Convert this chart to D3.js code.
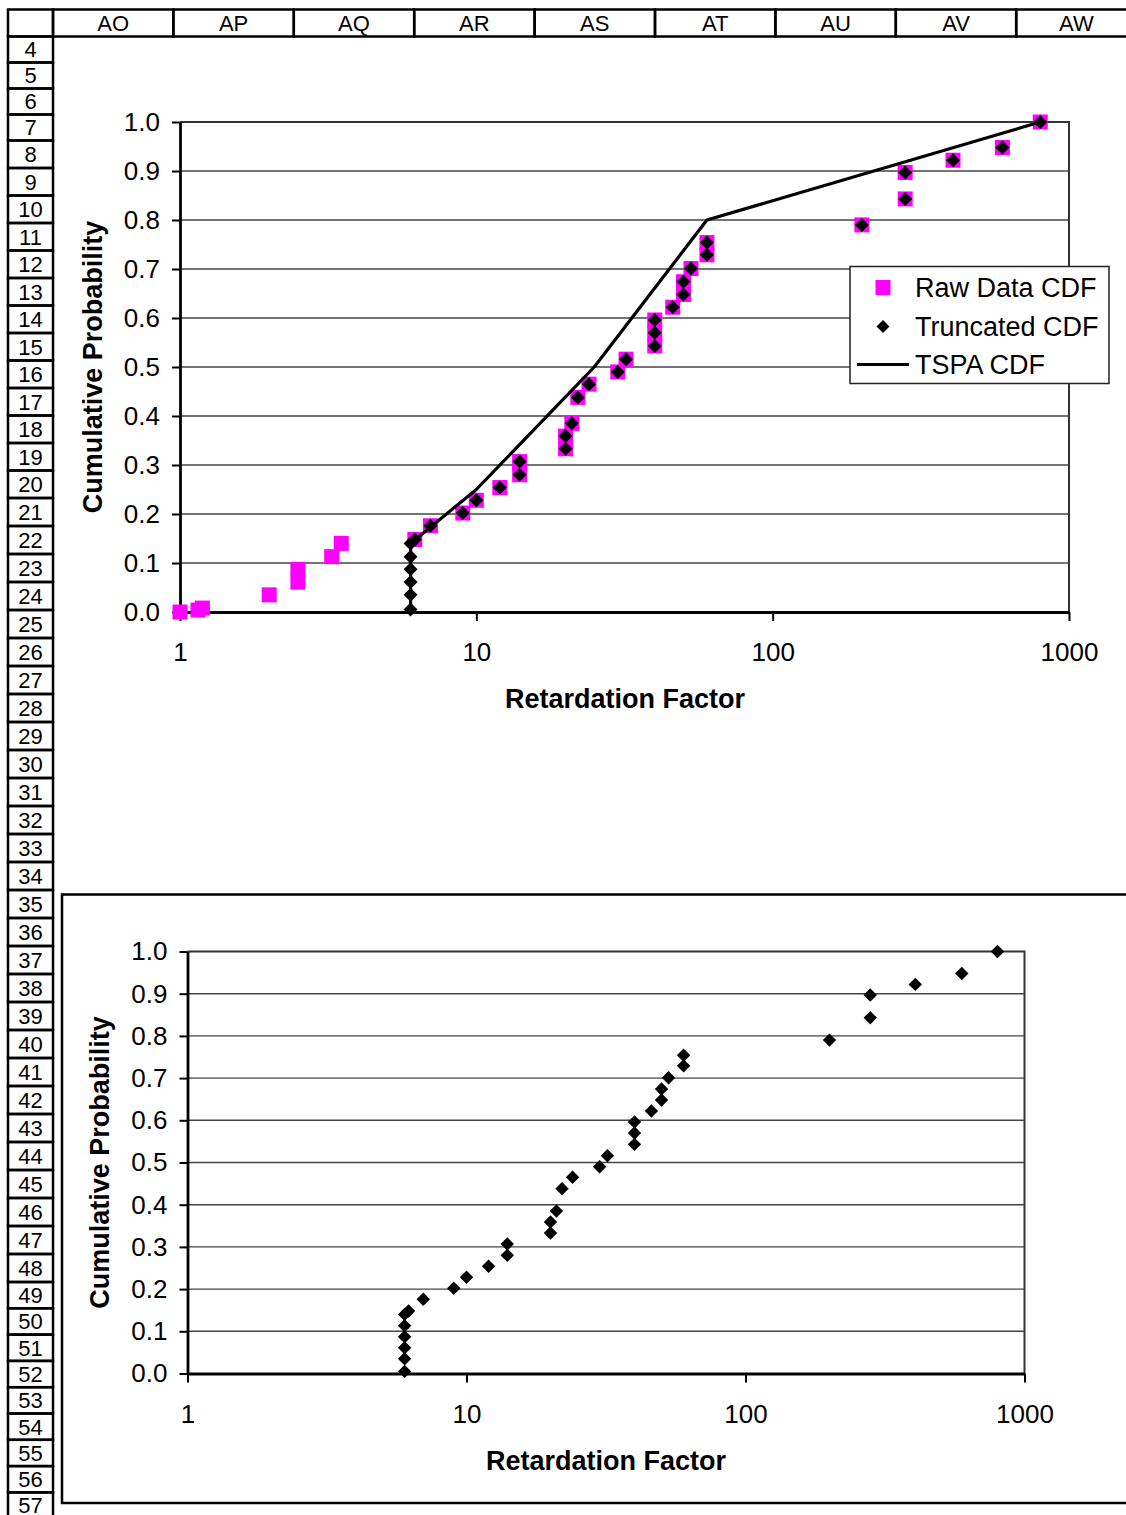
<!DOCTYPE html>
<html>
<head>
<meta charset="utf-8">
<script src="https://cdn.jsdelivr.net/npm/d3@7"></script>
<style>
  body { margin: 0; background: #fff; }
  svg { display: block; }
  text { font-family: "Liberation Sans", Arial, sans-serif; }
</style>
</head>
<body>
<svg id="sheet" width="1126" height="1515"></svg>
<script>
// spreadsheet headers
var colLabels = ['AO', 'AP', 'AQ', 'AR', 'AS', 'AT', 'AU', 'AV', 'AW'];
var rowLabels = d3.range(4, 58);

// raw data below the truncation value
var rawLowRf = [1, 1.15, 1.19, 2, 2.5, 2.5, 3.25, 3.5];
var rawLowProb = [0, 0.004, 0.008, 0.035, 0.061, 0.087, 0.113, 0.14];

// truncated CDF (raw values under 6 set to 6)
var truncRf = [6, 6, 6, 6, 6, 6, 6.2, 7, 9, 10, 12, 14, 14, 20, 20, 21, 22, 24, 30, 32,
    40, 40, 40, 46, 50, 50, 53, 60, 60, 200, 280, 280, 406, 596, 800];
var truncProb = [0.005, 0.035, 0.061, 0.087, 0.113, 0.14, 0.148, 0.176, 0.202, 0.228, 0.254,
    0.28, 0.307, 0.333, 0.359, 0.385, 0.438, 0.465, 0.49, 0.516, 0.543, 0.57, 0.596, 0.622,
    0.648, 0.674, 0.701, 0.729, 0.754, 0.79, 0.843, 0.897, 0.922, 0.948, 1.0];

// TSPA distribution
var tspaRf = [6, 6, 10, 25, 60, 800];
var tspaProb = [0, 0.14, 0.25, 0.5, 0.8, 1.0];

var xTicks = [1, 10, 100, 1000];
var yTicks = d3.range(0, 11).map(function (d) { return d / 10; });
var legendLabels = ['Raw Data CDF', 'Truncated CDF', 'TSPA CDF'];

var MAGENTA = '#ff00ff';
var svg = d3.select('#sheet');

// ---- spreadsheet frame ----
var colW = 120.4;
var sheet = svg.append('g');

function rowHeight(r) {
    if (r <= 7) return 26;
    if (r <= 20) return 27.5;
    if (r <= 48) return 28;
    return 26.3;
}

sheet.append('rect')
    .attr('x', 8).attr('y', 9.5).attr('width', 45).attr('height', 27)
    .attr('fill', 'none').attr('stroke', '#000').attr('stroke-width', 2.5);

colLabels.forEach(function (lab, i) {
    var x0 = 53 + i * colW;
    sheet.append('rect')
        .attr('x', x0).attr('y', 9.5).attr('width', colW).attr('height', 27)
        .attr('fill', 'none').attr('stroke', '#000').attr('stroke-width', 2.5);
    sheet.append('text')
        .attr('x', x0 + colW / 2).attr('y', 23.5).attr('dy', '0.35em')
        .attr('text-anchor', 'middle').attr('font-size', 22)
        .text(lab);
});

var rowTop = 36.5;
rowLabels.forEach(function (r) {
    var h = rowHeight(r);
    sheet.append('rect')
        .attr('x', 8).attr('y', rowTop).attr('width', 45).attr('height', h)
        .attr('fill', 'none').attr('stroke', '#000').attr('stroke-width', 2.5);
    sheet.append('text')
        .attr('x', 30.5).attr('y', rowTop + h / 2).attr('dy', '0.36em')
        .attr('text-anchor', 'middle').attr('font-size', 22)
        .text(r);
    rowTop += h;
});

// border of the lower chart object
svg.append('rect')
    .attr('x', 62).attr('y', 894.5).attr('width', 1100).attr('height', 608.5)
    .attr('fill', 'none').attr('stroke', '#000').attr('stroke-width', 2.5);

function diamondPath(r) {
    return 'M0,' + (-r) + 'L' + r + ',0L0,' + r + 'L' + (-r) + ',0Z';
}

function drawChart(opts) {
    var g = svg.append('g');
    var x = d3.scaleLog().domain([1, 1000]).range([opts.x0, opts.x1]);
    var y = d3.scaleLinear().domain([0, 1]).range([opts.y0, opts.y1]);

    // gridlines
    g.append('g').selectAll('line')
        .data(yTicks.slice(1, 10))
        .join('line')
        .attr('x1', opts.x0).attr('x2', opts.x1)
        .attr('y1', function (d) { return y(d); })
        .attr('y2', function (d) { return y(d); })
        .attr('stroke', '#444').attr('stroke-width', 1.4);

    // top / right border of plot area
    g.append('path')
        .attr('d', 'M' + opts.x0 + ',' + opts.y1 + 'H' + opts.x1 + 'V' + opts.y0)
        .attr('fill', 'none').attr('stroke', '#333').attr('stroke-width', 2);

    var yAxis = g.append('g')
        .attr('transform', 'translate(' + opts.x0 + ',0)')
        .call(d3.axisLeft(y).tickValues(yTicks).tickFormat(d3.format('.1f'))
            .tickSize(8).tickSizeOuter(0).tickPadding(12));
    var xAxis = g.append('g')
        .attr('transform', 'translate(0,' + opts.y0 + ')')
        .call(d3.axisBottom(x).tickValues(xTicks).tickFormat(d3.format('d'))
            .tickSize(9).tickSizeOuter(0).tickPadding(22));

    [yAxis, xAxis].forEach(function (ax) {
        ax.select('.domain').attr('stroke', '#000').attr('stroke-width', 2.8);
        ax.selectAll('.tick line').attr('stroke', '#000').attr('stroke-width', 2);
        ax.selectAll('.tick text')
            .attr('fill', '#000')
            .attr('font-size', 26)
            .attr('font-family', '"Liberation Sans", Arial, sans-serif');
    });

    // axis titles
    g.append('text')
        .attr('transform', 'translate(' + opts.yTitleX + ',' + ((opts.y0 + opts.y1) / 2) + ') rotate(-90)')
        .attr('dy', '0.35em')
        .attr('text-anchor', 'middle')
        .attr('font-size', 27).attr('font-weight', 'bold')
        .text('Cumulative Probability');
    g.append('text')
        .attr('x', opts.xTitleX).attr('y', opts.xTitleY).attr('dy', '0.35em')
        .attr('text-anchor', 'middle')
        .attr('font-size', 27).attr('font-weight', 'bold')
        .text('Retardation Factor');

    if (opts.showRaw) {
        var rawRf = rawLowRf.concat(truncRf.slice(6));
        var rawProb = rawLowProb.concat(truncProb.slice(6));
        g.append('g').selectAll('rect')
            .data(d3.range(rawRf.length))
            .join('rect')
            .attr('x', function (i) { return x(rawRf[i]) - 7.5; })
            .attr('y', function (i) { return y(rawProb[i]) - 7.5; })
            .attr('width', 15).attr('height', 15)
            .attr('fill', MAGENTA);
    }

    g.append('g').selectAll('path')
        .data(d3.range(truncRf.length))
        .join('path')
        .attr('transform', function (i) {
            return 'translate(' + x(truncRf[i]) + ',' + y(truncProb[i]) + ')';
        })
        .attr('d', diamondPath(opts.dr))
        .attr('fill', '#000');

    if (opts.showTspa) {
        var line = d3.line()
            .x(function (i) { return x(tspaRf[i]); })
            .y(function (i) { return y(tspaProb[i]); });
        g.append('path')
            .datum(d3.range(tspaRf.length))
            .attr('d', line)
            .attr('fill', 'none').attr('stroke', '#000').attr('stroke-width', 3.2)
            .attr('stroke-linejoin', 'round');
    }

    if (opts.legend) {
        var L = opts.legend;
        var lg = g.append('g').attr('transform', 'translate(' + L.x + ',' + L.y + ')');
        lg.append('rect')
            .attr('width', L.w).attr('height', L.h)
            .attr('fill', '#fff').attr('stroke', '#222').attr('stroke-width', 1.5);
        var rowY = [21, 60, 98];
        lg.append('rect')
            .attr('x', 25.5).attr('y', rowY[0] - 7.5).attr('width', 15).attr('height', 15)
            .attr('fill', MAGENTA);
        lg.append('path')
            .attr('transform', 'translate(33,' + rowY[1] + ')')
            .attr('d', diamondPath(6.5)).attr('fill', '#000');
        lg.append('line')
            .attr('x1', 7).attr('x2', 59).attr('y1', rowY[2]).attr('y2', rowY[2])
            .attr('stroke', '#000').attr('stroke-width', 3.2);
        legendLabels.forEach(function (lab, i) {
            lg.append('text')
                .attr('x', 65).attr('y', rowY[i]).attr('dy', '0.35em')
                .attr('font-size', 27)
                .text(lab);
        });
    }
}

drawChart({
    x0: 180, x1: 1069, y0: 612, y1: 122,
    yTitleX: 93, xTitleX: 625, xTitleY: 699,
    dr: 7, showRaw: true, showTspa: true,
    legend: { x: 850, y: 266.5, w: 259, h: 117 }
});

drawChart({
    x0: 187.5, x1: 1024.5, y0: 1373.5, y1: 951.5,
    yTitleX: 100, xTitleX: 606, xTitleY: 1461,
    dr: 6.7, showRaw: false, showTspa: false,
    legend: null
});
</script>
</body>
</html>
